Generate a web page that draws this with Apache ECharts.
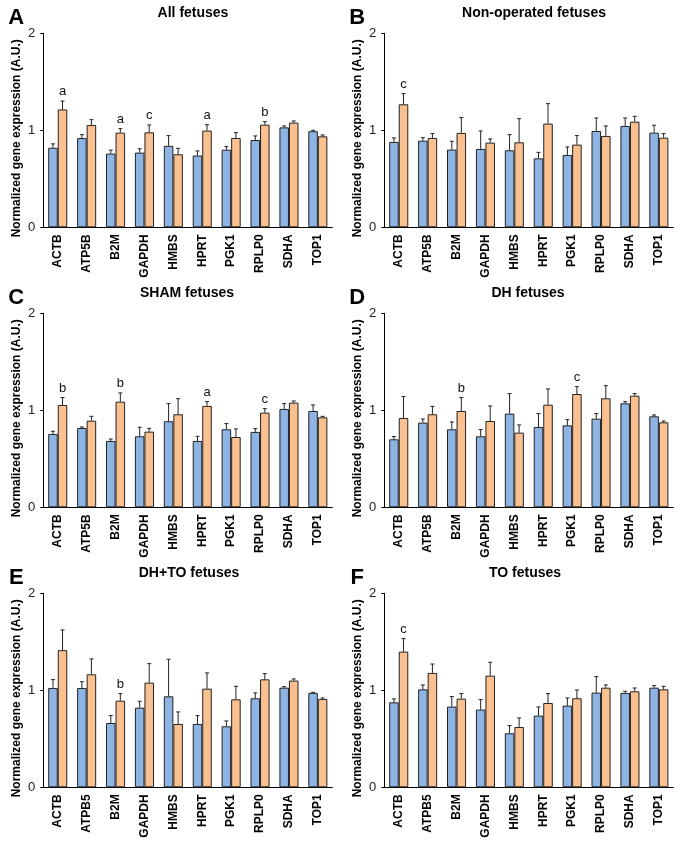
<!DOCTYPE html>
<html>
<head>
<meta charset="utf-8">
<script src="https://cdn.jsdelivr.net/npm/echarts@6/dist/echarts.min.js"></script>
<style>
html,body{margin:0;padding:0;background:#fff;}
#chart{width:683px;height:846px;}
</style>
</head>
<body>
<div id="chart"></div>
<script>
// ---------- DATA ----------
const genesABCD = ['ACTB','ATP5B','B2M','GAPDH','HMBS','HPRT','PGK1','RPLP0','SDHA','TOP1'];
const genesEF   = ['ACTB','ATPB5','B2M','GAPDH','HMBS','HPRT','PGK1','RPLP0','SDHA','TOP1'];
const yTicks = [0, 1, 2];

const panelLetters = ['A','B','C','D','E','F'];
const panelTitles = ['All fetuses','Non-operated fetuses','SHAM fetuses','DH fetuses','DH+TO fetuses','TO fetuses'];
const yTitle = 'Normalized gene expression (A.U.)';

// Panel A – All fetuses
const A_blue      = [0.82, 0.92, 0.76, 0.77, 0.84, 0.74, 0.80, 0.90, 1.03, 0.99];
const A_blueErr   = [0.04, 0.035, 0.035, 0.04, 0.105, 0.047, 0.032, 0.042, 0.015, 0.01];
const A_orange    = [1.215, 1.055, 0.976, 0.979, 0.753, 0.997, 0.921, 1.058, 1.079, 0.938];
const A_orangeErr = [0.087, 0.055, 0.041, 0.076, 0.061, 0.061, 0.055, 0.031, 0.017, 0.014];
const A_marks     = ['a', '', 'a', 'c', '', 'a', '', 'b', '', ''];

// Panel B – Non-operated fetuses
const B_blue      = [0.88, 0.893, 0.801, 0.808, 0.794, 0.711, 0.746, 0.993, 1.045, 0.976];
const B_blueErr   = [0.041, 0.031, 0.086, 0.185, 0.161, 0.062, 0.082, 0.134, 0.082, 0.076];
const B_orange    = [1.268, 0.921, 0.973, 0.873, 0.876, 1.069, 0.852, 0.942, 1.089, 0.924];
const B_orangeErr = [0.11, 0.045, 0.158, 0.038, 0.244, 0.206, 0.093, 0.103, 0.055, 0.042];
const B_marks     = ['c', '', '', '', '', '', '', '', '', ''];

// Panel C – SHAM fetuses
const C_blue      = [0.756, 0.818, 0.684, 0.732, 0.887, 0.684, 0.804, 0.777, 1.014, 0.993];
const C_blueErr   = [0.028, 0.01, 0.02, 0.093, 0.182, 0.048, 0.059, 0.034, 0.055, 0.062];
const C_orange    = [1.055, 0.893, 1.089, 0.78, 0.959, 1.045, 0.725, 0.976, 1.079, 0.928];
const C_orangeErr = [0.076, 0.045, 0.09, 0.034, 0.161, 0.044, 0.083, 0.041, 0.017, 0.01];
const C_marks     = ['b', '', 'b', '', '', 'a', '', 'c', '', ''];

// Panel D – DH fetuses
const D_blue      = [0.701, 0.873, 0.804, 0.732, 0.966, 0.828, 0.845, 0.914, 1.072, 0.938];
const D_blueErr   = [0.028, 0.038, 0.076, 0.069, 0.206, 0.138, 0.059, 0.052, 0.017, 0.014];
const D_orange    = [0.921, 0.959, 0.993, 0.89, 0.77, 1.058, 1.168, 1.124, 1.151, 0.876];
const D_orangeErr = [0.22, 0.082, 0.138, 0.155, 0.079, 0.162, 0.076, 0.13, 0.021, 0.014];
const D_marks     = ['', '', 'b', '', '', '', 'c', '', '', ''];

// Panel E – DH+TO fetuses
const E_blue      = [1.024, 1.024, 0.663, 0.821, 0.938, 0.653, 0.629, 0.918, 1.027, 0.973];
const E_blueErr   = [0.086, 0.065, 0.076, 0.066, 0.382, 0.086, 0.055, 0.055, 0.011, 0.006];
const E_orange    = [1.414, 1.165, 0.893, 1.079, 0.653, 1.017, 0.907, 1.113, 1.1, 0.911];
const E_orangeErr = [0.208, 0.158, 0.073, 0.196, 0.124, 0.162, 0.134, 0.059, 0.017, 0.01];
const E_marks     = ['', '', 'b', '', '', '', '', '', '', ''];

// Panel F – TO fetuses
const F_blue      = [0.876, 1.01, 0.832, 0.801, 0.557, 0.739, 0.842, 0.976, 0.973, 1.027];
const F_blueErr   = [0.035, 0.045, 0.103, 0.103, 0.079, 0.089, 0.079, 0.165, 0.017, 0.021];
const F_orange    = [1.399, 1.179, 0.914, 1.151, 0.622, 0.869, 0.918, 1.027, 0.99, 1.01];
const F_orangeErr = [0.134, 0.092, 0.052, 0.138, 0.093, 0.097, 0.085, 0.028, 0.034, 0.031];
const F_marks     = ['c', '', '', '', '', '', '', '', '', ''];

// ---------- LAYOUT / STYLE ----------
const FONT = "'Liberation Sans', Arial, Helvetica, sans-serif";
const BLUE = '#8DB4E3';
const ORANGE = '#FAC08F';
const EDGE = '#222222';
const colLeft = [43.3, 384.3];
const rowTop = [33.3, 313.3, 593.3];
const gridW = 289, gridH = 194;
const titleCenterX = [193, 534, 187, 528, 189, 525];
const BAR_GAP_CAT = 0.34;

const panels = [
  {cats: genesABCD, blue: A_blue, blueErr: A_blueErr, orange: A_orange, orangeErr: A_orangeErr, marks: A_marks},
  {cats: genesABCD, blue: B_blue, blueErr: B_blueErr, orange: B_orange, orangeErr: B_orangeErr, marks: B_marks},
  {cats: genesABCD, blue: C_blue, blueErr: C_blueErr, orange: C_orange, orangeErr: C_orangeErr, marks: C_marks},
  {cats: genesABCD, blue: D_blue, blueErr: D_blueErr, orange: D_orange, orangeErr: D_orangeErr, marks: D_marks},
  {cats: genesEF,   blue: E_blue, blueErr: E_blueErr, orange: E_orange, orangeErr: E_orangeErr, marks: E_marks},
  {cats: genesEF,   blue: F_blue, blueErr: F_blueErr, orange: F_orange, orangeErr: F_orangeErr, marks: F_marks}
];

const grids = [], xAxes = [], yAxes = [], series = [], graphics = [];

function errRenderer(sign, marks) {
  return function (params, api) {
    const cat = api.value(0), mean = api.value(1), err = api.value(2);
    const base = api.coord([cat, mean]);
    const top = api.coord([cat, mean + err]);
    const band = api.size([1, 0])[0];
    const x = base[0] + sign * band * (1 - BAR_GAP_CAT) / 4;
    const children = [
      {type: 'line', shape: {x1: x, y1: base[1], x2: x, y2: top[1]}, style: {stroke: EDGE, lineWidth: 1}},
      {type: 'line', shape: {x1: x - 2, y1: top[1], x2: x + 2, y2: top[1]}, style: {stroke: EDGE, lineWidth: 1}}
    ];
    const m = marks ? marks[params.dataIndex] : '';
    if (m) {
      children.push({type: 'text', x: x, y: top[1] - 3,
        style: {text: m, font: '13px ' + FONT, fill: '#111', align: 'center', verticalAlign: 'bottom'}});
    }
    return {type: 'group', children: children};
  };
}

panels.forEach(function (p, i) {
  const col = i % 2, row = Math.floor(i / 2);
  const left = colLeft[col], top = rowTop[row];
  grids.push({left: left, top: top, width: gridW, height: gridH});
  xAxes.push({
    type: 'category', gridIndex: i, data: p.cats,
    axisLine: {lineStyle: {color: '#000', width: 1}},
    axisTick: {show: false},
    axisLabel: {rotate: 90, margin: 7, fontFamily: FONT, fontSize: 12, fontWeight: 'bold', color: '#000', interval: 0}
  });
  yAxes.push({
    type: 'value', gridIndex: i, min: yTicks[0], max: yTicks[yTicks.length - 1], interval: 1,
    axisLine: {show: true, lineStyle: {color: '#000', width: 1}},
    axisTick: {show: true, inside: false, length: 3, lineStyle: {color: '#000'}},
    splitLine: {show: false},
    axisLabel: {margin: 8, fontFamily: FONT, fontSize: 13, color: '#222'}
  });
  series.push({
    type: 'bar', xAxisIndex: i, yAxisIndex: i, data: p.blue,
    barGap: '0%', barCategoryGap: (BAR_GAP_CAT * 100) + '%',
    itemStyle: {color: BLUE, borderColor: EDGE, borderWidth: 1}, silent: true
  });
  series.push({
    type: 'bar', xAxisIndex: i, yAxisIndex: i, data: p.orange,
    barGap: '0%', barCategoryGap: (BAR_GAP_CAT * 100) + '%',
    itemStyle: {color: ORANGE, borderColor: EDGE, borderWidth: 1}, silent: true
  });
  series.push({
    type: 'custom', xAxisIndex: i, yAxisIndex: i, z: 5,
    data: p.blue.map(function (v, k) { return [k, v, p.blueErr[k]]; }),
    encode: {x: 0, y: 1},
    renderItem: errRenderer(-1, null), silent: true
  });
  series.push({
    type: 'custom', xAxisIndex: i, yAxisIndex: i, z: 5,
    data: p.orange.map(function (v, k) { return [k, v, p.orangeErr[k]]; }),
    encode: {x: 0, y: 1},
    renderItem: errRenderer(1, p.marks), silent: true
  });
  // panel letter
  graphics.push({type: 'text', x: left - 27, y: top - 15,
    style: {text: panelLetters[i], font: 'bold 22px ' + FONT, fill: '#000', align: 'center', verticalAlign: 'middle'}});
  // panel title
  graphics.push({type: 'text', x: titleCenterX[i], y: top - 20,
    style: {text: panelTitles[i], font: 'bold 14px ' + FONT, fill: '#000', align: 'center', verticalAlign: 'middle'}});
  // y-axis title
  graphics.push({type: 'text', x: left - 26.5, y: top + 105, rotation: Math.PI / 2,
    style: {text: yTitle, font: 'bold 12px ' + FONT, fill: '#000', align: 'center', verticalAlign: 'middle'}});
});

const chart = echarts.init(document.getElementById('chart'), null, {renderer: 'canvas'});
chart.setOption({
  animation: false,
  backgroundColor: '#ffffff',
  grid: grids,
  xAxis: xAxes,
  yAxis: yAxes,
  series: series,
  graphic: graphics
});
</script>
</body>
</html>
